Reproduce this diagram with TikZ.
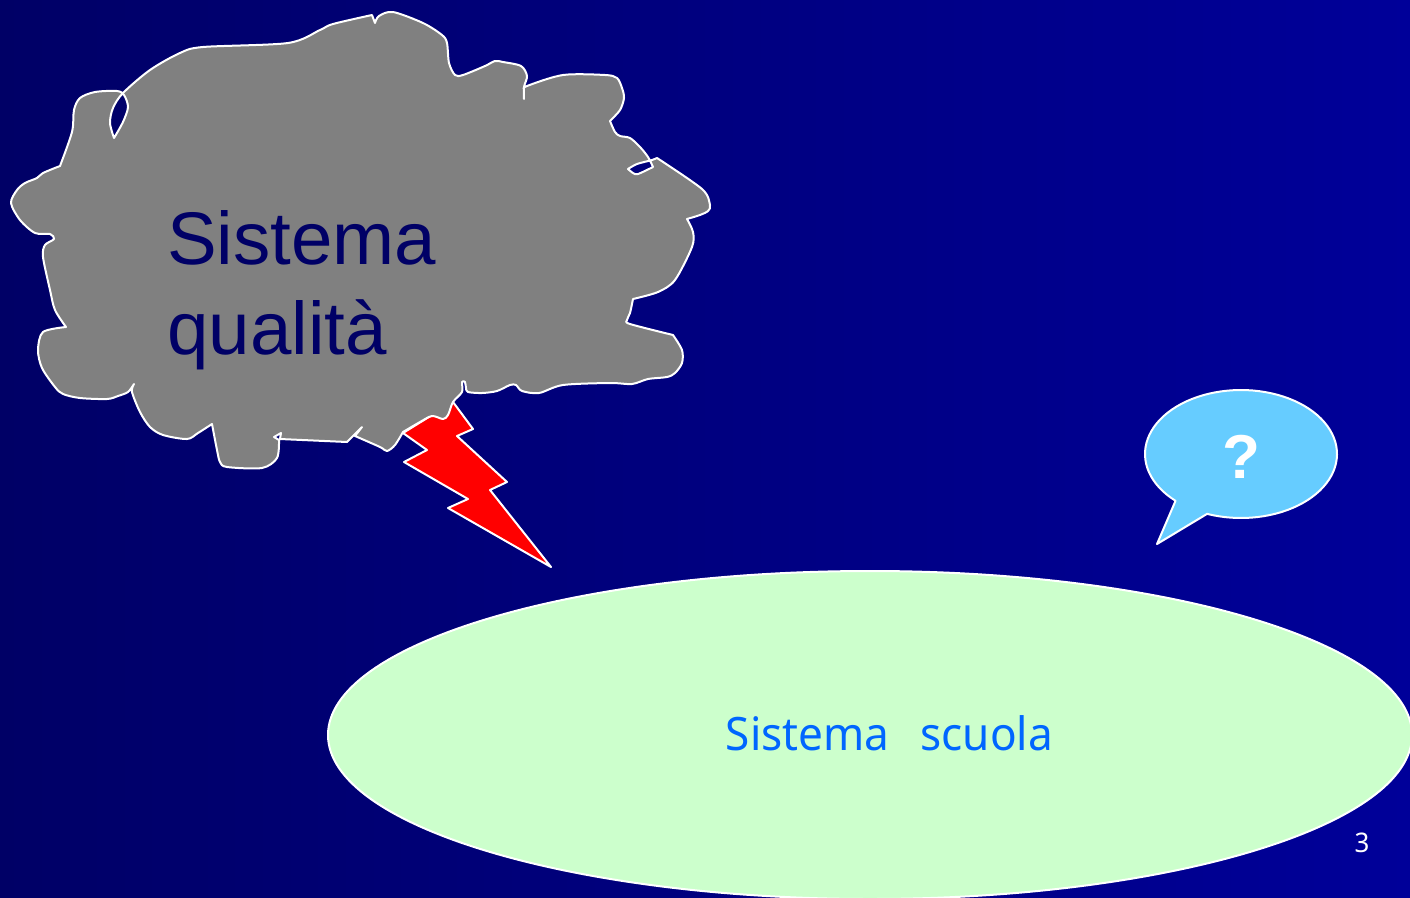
\documentclass[tikz,border=0pt]{standalone}
\usepackage{fontspec}
\setmainfont{Liberation Sans}
\newfontfamily\tahomafont[FakeStretch=.96]{Noto Sans}
\definecolor{bgleft}{HTML}{000066}
\definecolor{bgright}{HTML}{000099}
\definecolor{cloudgray}{HTML}{808080}
\definecolor{balloonblue}{HTML}{66CCFF}
\definecolor{paleGreen}{HTML}{CCFFCC}
\definecolor{schooltext}{HTML}{0066FF}
\tikzset{outline/.style={draw=white, line width=2pt, line join=round}}
\begin{document}
\begin{tikzpicture}[x=1pt, y=-1pt]
\useasboundingbox (0,0) rectangle (1410,897);
\fill[left color=bgleft, right color=bgright] (0,0) rectangle (1410,897);
% lightning
\draw[outline, fill=red] (453,402)--(473,429)--(457,436)--(507,482)--(490,490)--(551,567)--(448,508)--(468,499)--(404,462)--(427,450)--(403,433)--cycle;
% cloud
\draw[outline, fill=cloudgray, even odd rule]
 plot[smooth, tension=.5] coordinates {(375,23)(379,16)(393,12)(423,23)(442,35)(447,43)(449,63)(455,75)(463,75)(485,66)(495,61)(503,62)(521,66)(527,76)(524,87)(524,99)}
 -- plot[smooth, tension=.5] coordinates {(524,99)(524,90)(527,86)(563,75)(605,75)(617,78)(622,88)(624,98)(620,110)(610,121)}
 -- plot[smooth, tension=.5] coordinates {(610,121)(615,132)(620,136)(630,138)(640,147)(648,157)(653,167)}
 -- plot[smooth, tension=.5] coordinates {(653,167)(638,174)(633,173)(628,169)}
 -- plot[smooth, tension=.5] coordinates {(628,169)(637,164)(652,160)(657,158)}
 -- plot[smooth, tension=.5] coordinates {(657,158)(702,189)(710,205)(708,211)(700,215)(687,219)}
 -- plot[smooth, tension=.5] coordinates {(687,219)(693,232)(692,247)(675,280)(658,292)(633,299)}
 -- plot[smooth, tension=.5] coordinates {(633,299)(630,313)(627,320)(630,324)(673,335)}
 -- plot[smooth, tension=.5] coordinates {(673,335)(682,350)(682,363)(675,373)(667,377)(648,379)(632,384)(610,383)(563,385)(539,393)(522,391)(516,385)(510,385)(497,391)(482,393)(468,392)(466,388)(465,382)(462,382)(462,392)(453,402)(448,415)(443,419)(432,416)(420,422)(403,432)}
 -- plot[smooth, tension=.5] coordinates {(403,432)(395,445)(387,451)(380,447)(355,436)}
 -- (362,427) -- (347,442) -- (280,439) -- (281,433) -- (274,437) -- (279,440)
 -- plot[smooth, tension=.5] coordinates {(279,440)(277,458)(262,468)(227,467)(220,462)(217,450)(212,424)}
 -- plot[smooth, tension=.5] coordinates {(212,424)(198,433)(187,439)(163,435)(150,427)(140,412)(132,392)(134,384)}
 -- plot[smooth, tension=.5] coordinates {(134,384)(128,392)(118,396)(107,399)(80,398)(63,394)(55,387)(42,368)(38,350)(43,332)(66,327)}
 -- plot[smooth, tension=.5] coordinates {(66,327)(55,310)(50,290)(43,257)(45,245)(54,239)(50,234)(35,233)(20,220)(11,203)(17,190)(25,183)(37,178)(43,173)(60,166)}
 -- plot[smooth, tension=.5] coordinates {(60,166)(72,132)(74,110)(80,98)(95,92)(117,91)(124,95)(128,107)(123,122)(114,138)}
 -- plot[smooth, tension=.5] coordinates {(114,138)(110,123)(113,108)(123,93)(150,70)(180,53)(203,47)(288,43)(320,30)(333,24)(372,15)}
 -- cycle;
% balloon
\draw[outline, fill=balloonblue] plot[domain=133:470.7, samples=90] ({1241+96*cos(\x)},{454+64*sin(\x)}) -- (1157,544) -- cycle;
% ellipse
\draw[outline, fill=paleGreen] (870,735) ellipse [x radius=542, y radius=164];
\node[font=\fontsize{74.5}{90}\selectfont, text=bgleft, align=left, anchor=north west, inner sep=0pt] (quality) at (167,210) {Sistema\\qualità};
\node[font=\bfseries\fontsize{62}{70}\selectfont, text=white] (mark) at (1241,457) {?};
\node[font=\tahomafont\fontsize{46}{50}\selectfont, text=schooltext] (school) at (889.5,733) {Sistema\ \ \hspace{8pt}scuola};
\node[font=\tahomafont\fontsize{27}{30}\selectfont, text=white] (page) at (1362,843) {3};
\end{tikzpicture}
\end{document}
